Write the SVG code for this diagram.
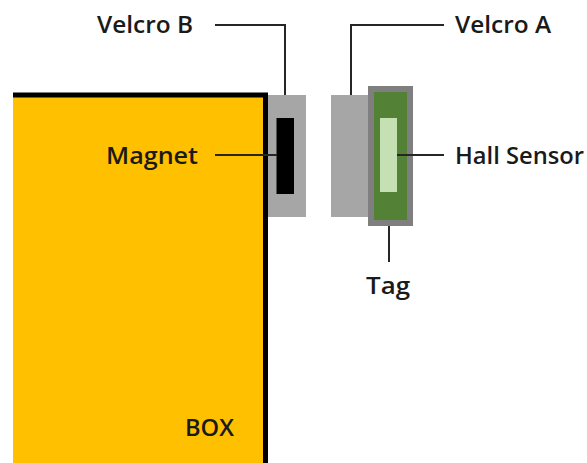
<svg xmlns="http://www.w3.org/2000/svg" width="587" height="463" viewBox="0 0 587 463">
<style>
text{font-family:"Open Sans","Noto Sans",sans-serif;font-size:24px;font-weight:600;fill:#1a1a1a}
.l{fill:none;stroke:#262626;stroke-width:2}
</style>
<rect width="587" height="463" fill="#fff"/>
<g id="box"><path d="M13 95H265V463H13Z" fill="#ffc000"/><path d="M13 95H265.500V463" fill="none" stroke="#000" stroke-width="5"/><text x="185" y="436" textLength="49" lengthAdjust="spacingAndGlyphs">BOX</text></g>
<g id="velcro-b"><rect x="268" y="95" width="38" height="122" fill="#a6a6a6"/><text x="97" y="33" textLength="96" lengthAdjust="spacingAndGlyphs">Velcro B</text></g>
<g id="magnet"><rect x="276.500" y="118" width="17.500" height="76" fill="#000"/><text x="106" y="164" textLength="92" lengthAdjust="spacingAndGlyphs">Magnet</text></g>
<g id="velcro-a"><rect x="331" y="95" width="38" height="122" fill="#a6a6a6"/><text x="455" y="33" textLength="96" lengthAdjust="spacingAndGlyphs">Velcro A</text></g>
<g id="tag"><rect x="371" y="89" width="39" height="134" fill="#538135" stroke="#7f7f7f" stroke-width="6"/><text x="366" y="294" textLength="44" lengthAdjust="spacingAndGlyphs">Tag</text></g>
<g id="hall-sensor"><rect x="380" y="118" width="17" height="74" fill="#c5e0b3"/><text x="455" y="164" textLength="129" lengthAdjust="spacingAndGlyphs">Hall Sensor</text></g>
<g id="connectors">
<path class="l" d="M215 25H285V95"/>
<path class="l" d="M351 95V25H444"/>
<path class="l" d="M215 155H277"/>
<path class="l" d="M397 155H444"/>
<path class="l" d="M389 226V262"/>
</g>
</svg>
